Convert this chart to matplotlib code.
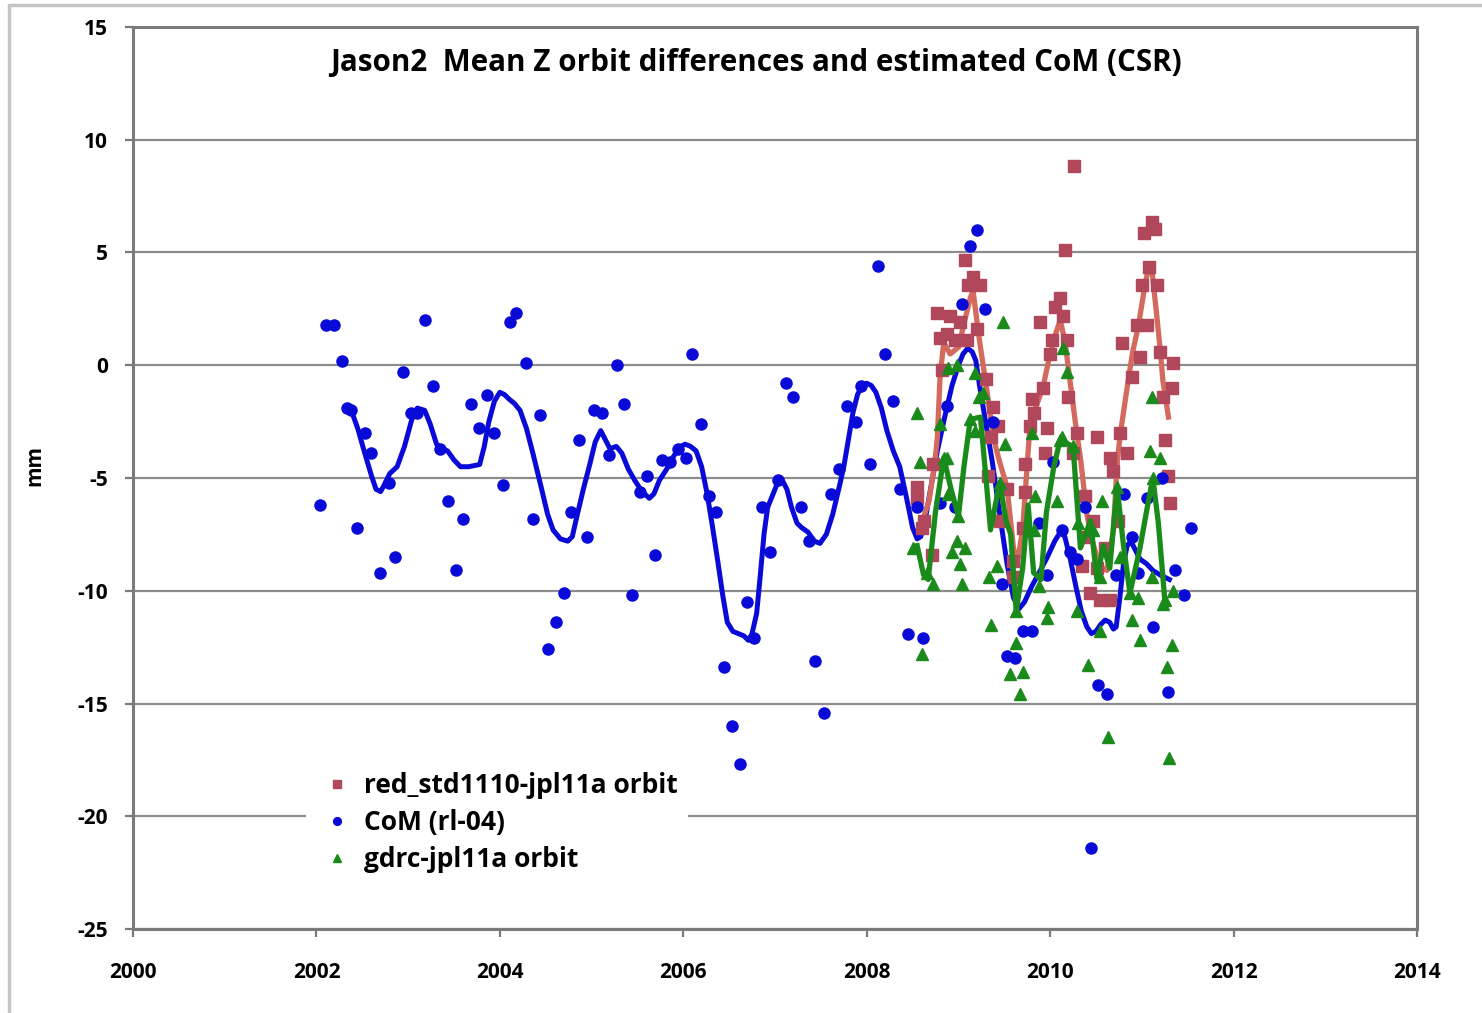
import matplotlib
matplotlib.use("Agg")
import matplotlib.pyplot as plt
from matplotlib.patches import Rectangle

plt.rcParams["font.family"] = ["Open Sans", "DejaVu Sans"]
plt.rcParams["font.weight"] = "bold"
plt.rcParams["axes.unicode_minus"] = False

# CoM (rl-04) monthly estimates
com_t = [2002.04, 2002.10, 2002.19, 2002.28, 2002.33, 2002.38, 2002.44, 2002.53, 2002.60, 2002.69,
         2002.79, 2002.86, 2002.94, 2003.03, 2003.10, 2003.18, 2003.27, 2003.35, 2003.43, 2003.52,
         2003.60, 2003.68, 2003.77, 2003.86, 2003.94, 2004.03, 2004.11, 2004.18, 2004.29, 2004.36,
         2004.44, 2004.53, 2004.61, 2004.70, 2004.78, 2004.86, 2004.95, 2005.03, 2005.11, 2005.19,
         2005.28, 2005.35, 2005.44, 2005.53, 2005.60, 2005.69, 2005.77, 2005.86, 2005.94, 2006.03,
         2006.10, 2006.19, 2006.28, 2006.36, 2006.44, 2006.53, 2006.62, 2006.70, 2006.77, 2006.86,
         2006.95, 2007.03, 2007.12, 2007.20, 2007.28, 2007.37, 2007.44, 2007.53, 2007.61, 2007.70,
         2007.79, 2007.88, 2007.94, 2008.04, 2008.12, 2008.20, 2008.29, 2008.36, 2008.45, 2008.55,
         2008.61, 2008.80, 2008.88, 2008.96, 2009.04, 2009.13, 2009.20, 2009.29, 2009.38, 2009.48,
         2009.53, 2009.62, 2009.70, 2009.80, 2009.88, 2009.97, 2010.03, 2010.13, 2010.22, 2010.29,
         2010.38, 2010.45, 2010.52, 2010.62, 2010.72, 2010.80, 2010.89, 2010.96, 2011.06, 2011.12,
         2011.22, 2011.29, 2011.36, 2011.46, 2011.54]
com_mm = [-6.2, 1.8, 1.8, 0.2, -1.9, -2.0, -7.2, -3.0, -3.9, -9.2,
          -5.2, -8.5, -0.3, -2.1, -2.1, 2.0, -0.9, -3.7, -6.0, -9.1,
          -6.8, -1.7, -2.8, -1.3, -3.0, -5.3, 1.9, 2.3, 0.1, -6.8,
          -2.2, -12.6, -11.4, -10.1, -6.5, -3.3, -7.6, -2.0, -2.1, -4.0,
          0.0, -1.7, -10.2, -5.6, -4.9, -8.4, -4.2, -4.3, -3.7, -4.1,
          0.5, -2.6, -5.8, -6.5, -13.4, -16.0, -17.7, -10.5, -12.1, -6.3,
          -8.3, -5.1, -0.8, -1.4, -6.3, -7.8, -13.1, -15.4, -5.7, -4.6,
          -1.8, -2.5, -0.9, -4.4, 4.4, 0.5, -1.6, -5.5, -11.9, -6.3,
          -12.1, -6.1, -1.8, -6.3, 2.7, 5.3, 6.0, 2.5, -2.5, -9.7,
          -12.9, -13.0, -11.8, -11.8, -7.0, -9.3, -4.3, -7.3, -8.3, -8.6,
          -6.3, -21.4, -14.2, -14.6, -9.3, -5.7, -7.6, -9.2, -5.9, -11.6,
          -5.0, -14.5, -9.1, -10.2, -7.2]

# CoM moving average
com_avg_t = [2002.35, 2002.38, 2002.45, 2002.52, 2002.60, 2002.65, 2002.70, 2002.74, 2002.80, 2002.88,
             2002.96, 2003.04, 2003.10, 2003.18, 2003.24, 2003.31, 2003.37, 2003.43, 2003.50, 2003.57,
             2003.66, 2003.78, 2003.83, 2003.88, 2003.94, 2004.00, 2004.05, 2004.10, 2004.16, 2004.22,
             2004.29, 2004.36, 2004.45, 2004.52, 2004.58, 2004.66, 2004.74, 2004.79, 2004.84, 2004.91,
             2004.98, 2005.04, 2005.10, 2005.15, 2005.20, 2005.27, 2005.33, 2005.40, 2005.47, 2005.55,
             2005.63, 2005.68, 2005.74, 2005.82, 2005.90, 2005.97, 2006.02, 2006.08, 2006.14, 2006.20,
             2006.26, 2006.32, 2006.38, 2006.43, 2006.48, 2006.54, 2006.60, 2006.66, 2006.71, 2006.75,
             2006.80, 2006.84, 2006.88, 2006.92, 2006.97, 2007.03, 2007.08, 2007.13, 2007.18, 2007.24,
             2007.29, 2007.36, 2007.43, 2007.49, 2007.56, 2007.63, 2007.70, 2007.75, 2007.80, 2007.85,
             2007.90, 2007.95, 2008.00, 2008.05, 2008.10, 2008.16, 2008.22, 2008.29, 2008.36, 2008.43,
             2008.50, 2008.55, 2008.59, 2008.64, 2008.70, 2008.77, 2008.85, 2008.93, 2009.00, 2009.05,
             2009.10, 2009.15, 2009.19, 2009.23, 2009.30, 2009.37, 2009.45, 2009.53, 2009.60, 2009.66,
             2009.72, 2009.80, 2009.88, 2009.97, 2010.05, 2010.11, 2010.16, 2010.22, 2010.28, 2010.34,
             2010.40, 2010.45, 2010.50, 2010.55, 2010.60, 2010.65, 2010.69, 2010.72, 2010.76, 2010.80,
             2010.84, 2010.88, 2010.93, 2010.98, 2011.05, 2011.12, 2011.20, 2011.30]
com_avg_mm = [-1.9, -2.0, -2.8, -3.8, -4.9, -5.5, -5.6, -5.3, -4.8, -4.5,
              -3.6, -2.4, -1.9, -2.0, -2.6, -3.5, -3.7, -3.8, -4.2, -4.5,
              -4.5, -4.4, -3.6, -2.5, -1.6, -1.2, -1.3, -1.5, -1.7, -2.0,
              -2.8, -3.9, -5.4, -6.6, -7.3, -7.7, -7.8, -7.6, -6.7, -5.5,
              -4.4, -3.4, -2.9, -3.3, -3.7, -3.6, -3.9, -4.6, -5.1, -5.6,
              -5.9, -5.7, -5.1, -4.6, -4.0, -3.6, -3.5, -3.6, -3.8, -4.5,
              -5.7, -7.2, -8.8, -10.2, -11.4, -11.8, -11.9, -12.0, -12.2, -11.9,
              -11.0, -9.3, -7.5, -6.3, -5.8, -5.2, -5.1, -5.5, -6.3, -7.0,
              -7.2, -7.4, -7.8, -7.9, -7.5, -6.6, -5.4, -4.5, -3.3, -2.1,
              -1.3, -0.9, -0.8, -0.9, -1.2, -1.9, -2.9, -3.8, -4.5, -5.8,
              -7.2, -7.7, -7.6, -6.8, -5.4, -3.8, -2.3, -0.9, 0.0, 0.5,
              0.75, 0.6, 0.2, -0.9, -2.6, -4.3, -6.6, -8.8, -10.3, -10.8,
              -10.5, -9.8, -9.2, -8.5, -7.8, -7.4, -7.6, -8.6, -9.8, -10.9,
              -11.6, -11.9, -11.8, -11.5, -11.3, -11.4, -11.7, -11.6, -10.3, -8.8,
              -8.0, -7.8, -8.2, -8.6, -8.8, -9.1, -9.3, -9.5]

# red_std1110-jpl11a orbit
red_t = [2008.55, 2008.55, 2008.60, 2008.62, 2008.71, 2008.72, 2008.77, 2008.80, 2008.82, 2008.87,
         2008.91, 2008.96, 2009.02, 2009.07, 2009.09, 2009.10, 2009.16, 2009.20, 2009.24, 2009.30,
         2009.32, 2009.35, 2009.38, 2009.43, 2009.45, 2009.53, 2009.60, 2009.60, 2009.70, 2009.73,
         2009.73, 2009.78, 2009.80, 2009.82, 2009.89, 2009.92, 2009.94, 2009.97, 2010.00, 2010.02,
         2010.05, 2010.11, 2010.14, 2010.16, 2010.18, 2010.20, 2010.25, 2010.26, 2010.29, 2010.35,
         2010.38, 2010.40, 2010.43, 2010.47, 2010.51, 2010.51, 2010.54, 2010.60, 2010.65, 2010.65,
         2010.69, 2010.74, 2010.76, 2010.78, 2010.84, 2010.89, 2010.95, 2010.98, 2011.00, 2011.02,
         2011.06, 2011.08, 2011.11, 2011.14, 2011.16, 2011.20, 2011.23, 2011.25, 2011.29, 2011.31,
         2011.33, 2011.34]
red_mm = [-5.4, -5.9, -7.2, -6.9, -8.4, -4.4, 2.3, 1.2, -0.2, 1.4,
          2.2, 1.1, 1.9, 4.65, 1.1, 3.55, 3.9, 1.6, 3.55, -0.6,
          -4.9, -3.2, -1.85, -2.7, -6.9, -5.5, -8.7, -9.4, -7.2, -4.4,
          -5.6, -2.7, -1.5, -2.1, 1.9, -1.0, -3.9, -2.8, 0.5, 1.1,
          2.6, 3.0, 2.2, 5.1, 1.1, -1.4, -3.9, 8.85, -3.0, -8.9,
          -5.8, -7.6, -10.1, -6.9, -3.2, -9.0, -10.4, -8.1, -10.4, -4.1,
          -4.7, -6.9, -3.0, 1.0, -3.9, -0.5, 1.8, 0.35, 3.55, 5.85,
          1.8, 4.35, 6.35, 6.05, 3.55, 0.6, -1.4, -3.3, -4.9, -6.1,
          -1.0, 0.1]

red_avg_t = [2008.60, 2008.68, 2008.74, 2008.77, 2008.80, 2008.84, 2008.91, 2009.00, 2009.07, 2009.13,
             2009.16, 2009.20, 2009.24, 2009.31, 2009.38, 2009.45, 2009.53, 2009.60, 2009.64, 2009.70,
             2009.75, 2009.78, 2009.85, 2009.92, 2010.00, 2010.06, 2010.11, 2010.16, 2010.22, 2010.29,
             2010.33, 2010.40, 2010.46, 2010.51, 2010.57, 2010.62, 2010.69, 2010.73, 2010.76, 2010.81,
             2010.85, 2010.90, 2010.96, 2011.02, 2011.06, 2011.11, 2011.16, 2011.20, 2011.23, 2011.29]
red_avg_mm = [-7.0, -6.0, -4.4, -3.2, -0.5, 1.0, 0.5, 0.8, 2.0, 3.0,
              3.3, 2.0, 0.8, -1.1, -3.2, -4.3, -5.4, -8.1, -8.8, -7.3,
              -4.4, -2.7, -1.8, -1.0, 0.5, 1.4, 2.0, 1.1, -0.8, -3.0,
              -4.1, -6.6, -7.8, -8.5, -9.0, -9.1, -7.3, -4.4, -3.2, -1.8,
              -0.7, 0.6, 1.7, 3.2, 4.1, 4.2, 2.3, 0.7, -0.7, -2.3]

# gdrc-jpl11a orbit
grn_t = [2008.51, 2008.55, 2008.58, 2008.60, 2008.66, 2008.72, 2008.80, 2008.84, 2008.87, 2008.89,
         2008.89, 2008.93, 2008.98, 2008.98, 2009.00, 2009.02, 2009.04, 2009.07, 2009.13, 2009.18,
         2009.18, 2009.22, 2009.27, 2009.33, 2009.35, 2009.42, 2009.45, 2009.49, 2009.51, 2009.56,
         2009.63, 2009.63, 2009.67, 2009.70, 2009.80, 2009.82, 2009.84, 2009.88, 2009.97, 2009.98,
         2010.07, 2010.11, 2010.13, 2010.14, 2010.18, 2010.25, 2010.29, 2010.30, 2010.41, 2010.47,
         2010.54, 2010.54, 2010.57, 2010.63, 2010.73, 2010.76, 2010.87, 2010.89, 2010.96, 2010.98,
         2011.09, 2011.11, 2011.11, 2011.12, 2011.20, 2011.23, 2011.25, 2011.27, 2011.30, 2011.33,
         2011.34]
grn_mm = [-8.1, -2.1, -4.3, -12.8, -9.2, -9.7, -2.6, -4.1, -4.1, -0.1,
          -5.7, -8.3, 0.0, -7.8, -6.7, -8.8, -9.7, -8.1, -2.4, -0.35,
          -2.9, -1.4, -1.25, -9.4, -11.5, -8.9, -5.2, 1.9, -3.5, -13.7,
          -12.3, -10.9, -14.6, -13.6, -3.0, -7.3, -5.8, -9.8, -11.2, -10.7,
          -6.0, -3.3, -3.2, 0.75, -0.3, -3.6, -10.9, -7.0, -13.3, -7.3,
          -9.4, -11.8, -6.0, -16.5, -5.4, -8.5, -10.1, -11.3, -10.3, -12.2,
          -3.8, -1.4, -9.4, -5.0, -4.1, -10.6, -10.4, -13.4, -17.4, -12.4,
          -10.0]

grn_avg_t = [2008.55, 2008.62, 2008.67, 2008.75, 2008.84, 2008.92, 2009.00, 2009.06, 2009.13, 2009.24,
             2009.30, 2009.35, 2009.45, 2009.52, 2009.57, 2009.63, 2009.70, 2009.76, 2009.82, 2009.90,
             2009.96, 2010.04, 2010.11, 2010.20, 2010.25, 2010.33, 2010.44, 2010.51, 2010.58, 2010.65,
             2010.73, 2010.80, 2010.87, 2010.98, 2011.05, 2011.12, 2011.18, 2011.25]
grn_avg_mm = [-8.0, -9.3, -9.5, -6.5, -4.1, -5.5, -6.7, -4.5, -2.4, -2.3,
              -5.0, -7.3, -5.2, -6.9, -7.5, -10.9, -9.0, -6.2, -9.2, -9.5,
              -6.5, -4.5, -3.3, -3.5, -3.6, -8.1, -6.9, -9.5, -8.0, -9.0,
              -5.4, -8.0, -10.1, -8.1, -6.5, -5.0, -7.0, -10.4]

c_blue = "#0A0AD8"
c_red = "#B0475A"
c_red_line = "#D46A5E"
c_green = "#1A8A1A"
c_grid = "#8C8C8C"

fig = plt.figure(figsize=(14.82, 10.13), dpi=100)
fig.patches.append(Rectangle((9 / 1482, -0.1), 1.2, 1.1 - 5 / 1013, transform=fig.transFigure,
                             fill=False, edgecolor="#C4C4C4", linewidth=2.5, zorder=0))
ax = fig.add_axes([133 / 1482, 1 - 929 / 1013, (1417 - 133) / 1482, (929 - 27) / 1013])

ax.plot(com_avg_t, com_avg_mm, color=c_blue, lw=3.6, zorder=3, solid_joinstyle="round")
ax.plot(red_avg_t, red_avg_mm, color=c_red_line, lw=3.8, zorder=3, solid_joinstyle="round")
ax.plot(red_t, red_mm, ls="none", marker="s", ms=8.5, color=c_red, zorder=4,
        label="red_std1110-jpl11a orbit")
ax.plot(com_t, com_mm, ls="none", marker="o", ms=8, color=c_blue, zorder=5,
        label="CoM (rl-04)")
ax.plot(grn_avg_t, grn_avg_mm, color=c_green, lw=3.8, zorder=6, solid_joinstyle="round")
ax.plot(grn_t, grn_mm, ls="none", marker="^", ms=9, color=c_green, zorder=7,
        label="gdrc-jpl11a orbit")

ax.set_xlim(2000, 2014)
ax.set_ylim(-25, 15)
ax.set_xticks(range(2000, 2015, 2))
ax.set_yticks(range(-25, 16, 5))
ax.yaxis.grid(True, color=c_grid, lw=1.6)
ax.set_axisbelow(True)
for s in ax.spines.values():
    s.set_color("#7A7A7A")
    s.set_linewidth(2.2)
ax.tick_params(direction="out", length=6, width=1.6, color="#7A7A7A", labelsize=15)
ax.tick_params(axis="x", pad=18)
ax.tick_params(axis="y", pad=12)
for lab in ax.get_xticklabels() + ax.get_yticklabels():
    lab.set_fontweight("bold")

ax.text((756 - 133) / 1284, (929 - 63) / 902,
        "Jason2  Mean Z orbit differences and estimated CoM (CSR)",
        transform=ax.transAxes, ha="center", va="center", fontsize=21.3, fontweight="bold")
fig.text(35 / 1482, 1 - 466 / 1013, "mm", rotation=90, fontsize=15, fontweight="bold",
         ha="center", va="center")

leg = ax.legend(loc="upper left", bbox_to_anchor=(0.135, 0.186), frameon=True,
                fontsize=19, markerscale=0.7, handlelength=1.5, handletextpad=0.27,
                labelspacing=0.38, borderpad=0.4, borderaxespad=0)
leg.get_frame().set_facecolor("white")
leg.get_frame().set_edgecolor("none")
leg.get_frame().set_alpha(1)
for t in leg.get_texts():
    t.set_fontweight("bold")

fig.savefig("out.png", dpi=100, facecolor="white")
